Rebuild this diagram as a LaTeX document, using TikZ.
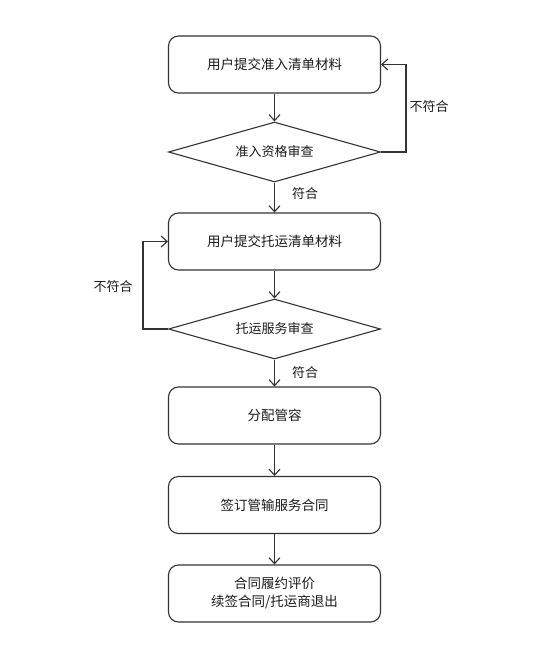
\documentclass[tikz,border=0pt]{standalone}
\usepackage{fontspec}
\setmainfont{Noto Sans CJK SC}
\usetikzlibrary{shapes.geometric,arrows.meta}
\definecolor{ln}{HTML}{333333}
\definecolor{tx}{HTML}{1A1A1A}
\tikzset{
  procbox/.style={draw=ln, line width=1.1pt, rounded corners=10pt, minimum width=212pt, minimum height=57pt, inner sep=0pt, font=\fontsize{13.5}{17}\selectfont, text=tx, align=center},
  decbox/.style={draw=ln, line width=1.1pt, diamond, aspect=3.55, minimum width=212pt, minimum height=60pt, inner sep=0pt, font=\fontsize{13.5}{17}\selectfont, text=tx},
  conn/.style={draw=ln, line width=1.1pt, -{Straight Barb[length=6pt,width=11pt,line width=1.1pt]}},
  lbl/.style={font=\fontsize{13}{16}\selectfont, text=tx, inner sep=0pt}
}
\begin{document}
\begin{tikzpicture}[x=1pt,y=-1pt]
\useasboundingbox (0,0) rectangle (554,657);
\node[procbox] (b1) at (274.5,64.5) {用户提交准入清单材料};
\node[decbox] (d1) at (274.5,152) {};
\node[lbl] at (274.5,152) {准入资格审查};
\node[procbox] (b2) at (274.5,241.5) {用户提交托运清单材料};
\node[decbox] (d2) at (274.5,329) {};
\node[lbl] at (274.5,329) {托运服务审查};
\node[procbox] (b3) at (274.5,415.5) {分配管容};
\node[procbox] (b4) at (274.5,505) {签订管输服务合同};
\node[procbox] (b5) at (274.5,593.5) {合同履约评价\\[1pt]续签合同/托运商退出};
\coordinate (r1) at (406,152);
\coordinate (r2) at (406,64.5);
\coordinate (l1) at (143,329);
\coordinate (l2) at (143,241.5);
\draw[conn] (b1.south) -- (d1.north);
\draw[conn] (d1.south) -- (b2.north);
\draw[conn] (b2.south) -- (d2.north);
\draw[conn] (d2.south) -- (b3.north);
\draw[conn] (b3.south) -- (b4.north);
\draw[conn] (b4.south) -- (b5.north);
\draw[conn] (d1.east) -- (r1) -- (r2) -- (b1.east);
\draw[conn] (d2.west) -- (l1) -- (l2) -- (b2.west);
\node[lbl] (t1) at (429,107) {不符合};
\node[lbl] (t2) at (305,194) {符合};
\node[lbl] (t3) at (113,287) {不符合};
\node[lbl] (t4) at (305,373) {符合};
\end{tikzpicture}
\end{document}
